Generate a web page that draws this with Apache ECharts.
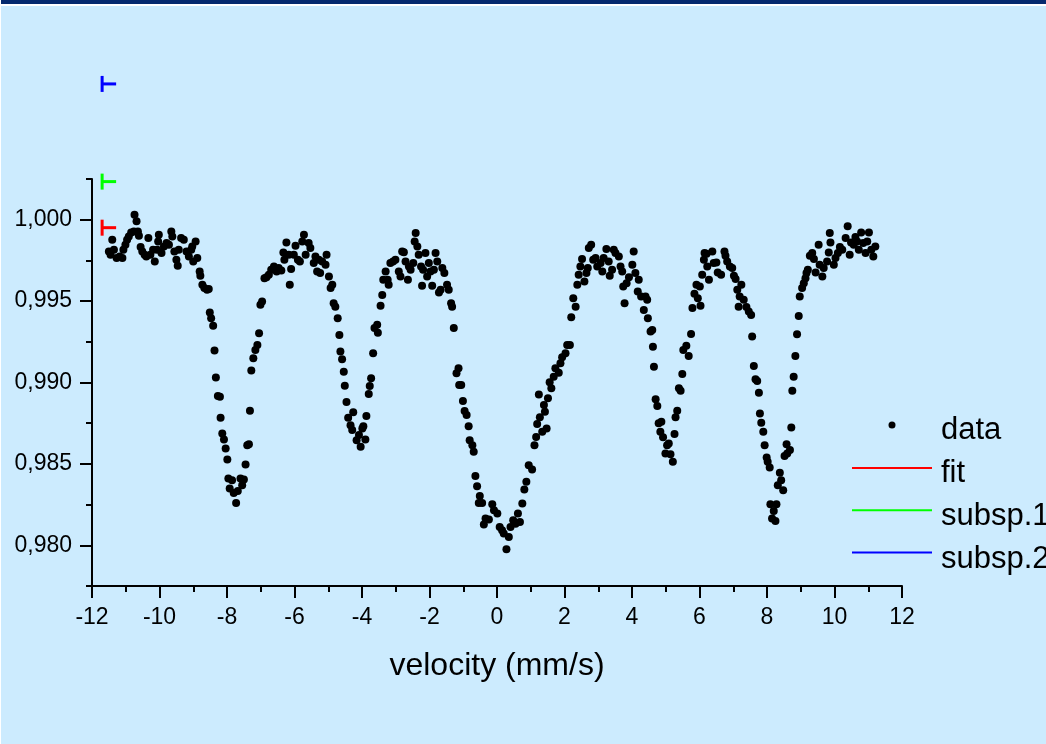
<!DOCTYPE html>
<html><head><meta charset="utf-8">
<script src="https://cdn.jsdelivr.net/npm/echarts@6/dist/echarts.min.js"></script>
<style>html,body{margin:0;padding:0;background:#CCEBFE;} #chart{width:1046px;height:744px;}</style>
</head><body><div id="chart"></div>
<script>
// Mössbauer spectrum: [velocity (mm/s), relative transmission]
const spectrum = [
[-11.50,0.99805],[-11.45,0.99785],[-11.40,0.99877],[-11.35,0.99815],[-11.27,0.99764],[-11.18,0.99774],[-11.10,0.99764],[-11.07,0.99815],[-11.01,0.99846],[-10.96,0.99877],[-10.91,0.99897],[-10.84,0.99922],[-10.76,0.99928],[-10.74,1.00031],[-10.68,0.99990],[-10.64,0.99928],[-10.61,0.99902],[-10.56,0.99832],[-10.51,0.99805],[-10.44,0.99785],[-10.39,0.99774],[-10.33,0.99887],[-10.27,0.99785],[-10.19,0.99815],[-10.14,0.99743],[-10.07,0.99815],[-10.04,0.99866],[-10.02,0.99908],[-9.94,0.99795],[-9.87,0.99836],[-9.79,0.99857],[-9.72,0.99846],[-9.65,0.99928],[-9.62,0.99897],[-9.56,0.99805],[-9.50,0.99754],[-9.46,0.99717],[-9.43,0.99815],[-9.36,0.99887],[-9.28,0.99877],[-9.20,0.99805],[-9.13,0.99774],[-9.06,0.99815],[-9.03,0.99836],[-9.00,0.99743],[-8.93,0.99866],[-8.88,0.99764],[-8.81,0.99682],[-8.79,0.99655],[-8.73,0.99600],[-8.67,0.99580],[-8.59,0.99569],[-8.54,0.99574],[-8.51,0.99430],[-8.47,0.99395],[-8.41,0.99348],[-8.37,0.99196],[-8.33,0.99031],[-8.27,0.98917],[-8.21,0.98913],[-8.19,0.98783],[-8.14,0.98687],[-8.09,0.98650],[-8.04,0.98595],[-7.99,0.98527],[-7.96,0.98410],[-7.92,0.98349],[-7.85,0.98400],[-7.80,0.98322],[-7.73,0.98260],[-7.68,0.98334],[-7.60,0.98410],[-7.55,0.98369],[-7.50,0.98404],[-7.45,0.98497],[-7.40,0.98615],[-7.35,0.98621],[-7.32,0.98826],[-7.28,0.99074],[-7.22,0.99149],[-7.16,0.99200],[-7.10,0.99231],[-7.05,0.99303],[-7.01,0.99477],[-6.96,0.99497],[-6.89,0.99641],[-6.83,0.99647],[-6.76,0.99662],[-6.69,0.99692],[-6.61,0.99713],[-6.53,0.99682],[-6.47,0.99703],[-6.39,0.99688],[-6.33,0.99799],[-6.30,0.99754],[-6.24,0.99860],[-6.17,0.99785],[-6.14,0.99600],[-6.10,0.99697],[-6.02,0.99785],[-5.97,0.99840],[-5.90,0.99754],[-5.84,0.99743],[-5.77,0.99866],[-5.72,0.99908],[-5.67,0.99785],[-5.58,0.99857],[-5.53,0.99826],[-5.43,0.99734],[-5.38,0.99774],[-5.33,0.99682],[-5.28,0.99754],[-5.24,0.99672],[-5.18,0.99743],[-5.08,0.99723],[-5.05,0.99785],[-4.98,0.99651],[-4.93,0.99580],[-4.88,0.99600],[-4.84,0.99487],[-4.79,0.99466],[-4.72,0.99395],[-4.67,0.99292],[-4.64,0.99190],[-4.59,0.99143],[-4.54,0.99066],[-4.51,0.98980],[-4.46,0.98880],[-4.41,0.98783],[-4.34,0.98738],[-4.29,0.98708],[-4.26,0.98817],[-4.16,0.98646],[-4.09,0.98677],[-4.04,0.98605],[-3.99,0.98718],[-3.96,0.98732],[-3.90,0.98650],[-3.87,0.98794],[-3.80,0.98929],[-3.77,0.98978],[-3.73,0.99026],[-3.67,0.99180],[-3.63,0.99334],[-3.55,0.99354],[-3.53,0.99306],[-3.45,0.99471],[-3.40,0.99538],[-3.37,0.99631],[-3.30,0.99682],[-3.24,0.99631],[-3.21,0.99600],[-3.16,0.99734],[-3.08,0.99743],[-3.01,0.99754],[-2.91,0.99682],[-2.86,0.99651],[-2.81,0.99805],[-2.76,0.99800],[-2.71,0.99743],[-2.64,0.99631],[-2.61,0.99713],[-2.56,0.99692],[-2.48,0.99734],[-2.44,0.99866],[-2.41,0.99918],[-2.36,0.99836],[-2.32,0.99785],[-2.25,0.99713],[-2.22,0.99594],[-2.19,0.99692],[-2.12,0.99795],[-2.07,0.99651],[-2.02,0.99734],[-1.97,0.99682],[-1.92,0.99594],[-1.87,0.99692],[-1.82,0.99795],[-1.77,0.99743],[-1.72,0.99553],[-1.67,0.99569],[-1.62,0.99703],[-1.56,0.99672],[-1.48,0.99600],[-1.43,0.99569],[-1.36,0.99487],[-1.33,0.99466],[-1.28,0.99335],[-1.20,0.99057],[-1.14,0.99087],[-1.12,0.98985],[-1.06,0.98985],[-1.01,0.98886],[-0.96,0.98825],[-0.90,0.98800],[-0.84,0.98732],[-0.81,0.98646],[-0.73,0.98615],[-0.69,0.98574],[-0.64,0.98426],[-0.59,0.98363],[-0.54,0.98260],[-0.51,0.98303],[-0.44,0.98260],[-0.39,0.98127],[-0.34,0.98164],[-0.24,0.98158],[-0.14,0.98252],[-0.09,0.98215],[0.01,0.98195],[0.08,0.98113],[0.15,0.98092],[0.20,0.98072],[0.28,0.97975],[0.35,0.98051],[0.40,0.98113],[0.48,0.98154],[0.55,0.98133],[0.62,0.98195],[0.68,0.98143],[0.75,0.98257],[0.81,0.98343],[0.87,0.98390],[0.94,0.98492],[1.04,0.98466],[1.11,0.98615],[1.16,0.98666],[1.19,0.98745],[1.24,0.98927],[1.27,0.98786],[1.34,0.98697],[1.39,0.98862],[1.42,0.98820],[1.47,0.98718],[1.51,0.98903],[1.56,0.99001],[1.61,0.98964],[1.68,0.99036],[1.73,0.99087],[1.83,0.99060],[1.88,0.99118],[1.93,0.99155],[2.03,0.99180],[2.08,0.99231],[2.16,0.99231],[2.20,0.99401],[2.26,0.99518],[2.33,0.99466],[2.38,0.99600],[2.42,0.99662],[2.47,0.99713],[2.52,0.99758],[2.59,0.99620],[2.65,0.99672],[2.69,0.99703],[2.72,0.99826],[2.79,0.99846],[2.85,0.99754],[2.92,0.99764],[2.97,0.99713],[3.07,0.99734],[3.12,0.99682],[3.16,0.99764],[3.24,0.99820],[3.31,0.99743],[3.34,0.99655],[3.41,0.99692],[3.46,0.99815],[3.51,0.99795],[3.61,0.99774],[3.66,0.99713],[3.71,0.99682],[3.74,0.99590],[3.78,0.99487],[3.84,0.99610],[3.91,0.99647],[4.01,0.99723],[4.05,0.99805],[4.10,0.99672],[4.17,0.99559],[4.20,0.99631],[4.27,0.99528],[4.35,0.99446],[4.40,0.99528],[4.45,0.99508],[4.47,0.99395],[4.55,0.99313],[4.60,0.99323],[4.62,0.99220],[4.65,0.99097],[4.70,0.98897],[4.75,0.98855],[4.79,0.98749],[4.84,0.98697],[4.87,0.98759],[4.92,0.98663],[4.99,0.98564],[5.04,0.98615],[5.09,0.98626],[5.14,0.98560],[5.21,0.98513],[5.26,0.98683],[5.29,0.98786],[5.34,0.98826],[5.39,0.98964],[5.44,0.98950],[5.49,0.99052],[5.52,0.99200],[5.61,0.99225],[5.68,0.99163],[5.75,0.99298],[5.79,0.99457],[5.85,0.99545],[5.91,0.99600],[5.95,0.99518],[6.01,0.99590],[6.03,0.99471],[6.08,0.99662],[6.13,0.99754],[6.15,0.99795],[6.21,0.99791],[6.23,0.99713],[6.28,0.99631],[6.38,0.99805],[6.42,0.99734],[6.50,0.99737],[6.54,0.99676],[6.64,0.99662],[6.74,0.99805],[6.77,0.99778],[6.82,0.99743],[6.90,0.99713],[6.97,0.99703],[7.02,0.99655],[7.07,0.99635],[7.12,0.99569],[7.16,0.99466],[7.19,0.99528],[7.24,0.99600],[7.31,0.99508],[7.39,0.99463],[7.46,0.99436],[7.53,0.99415],[7.56,0.99282],[7.61,0.99102],[7.66,0.99020],[7.71,0.99009],[7.76,0.98937],[7.79,0.98810],[7.83,0.98753],[7.89,0.98697],[7.93,0.98615],[7.99,0.98540],[8.02,0.98513],[8.08,0.98478],[8.10,0.98252],[8.15,0.98164],[8.20,0.98211],[8.25,0.98150],[8.28,0.98252],[8.32,0.98369],[8.38,0.98445],[8.42,0.98400],[8.48,0.98338],[8.52,0.98548],[8.58,0.98621],[8.60,0.98564],[8.68,0.98585],[8.72,0.98724],[8.75,0.98950],[8.79,0.99036],[8.84,0.99163],[8.89,0.99297],[8.94,0.99409],[8.97,0.99528],[9.04,0.99580],[9.09,0.99610],[9.14,0.99641],[9.17,0.99672],[9.21,0.99692],[9.27,0.99778],[9.34,0.99795],[9.39,0.99758],[9.44,0.99676],[9.53,0.99846],[9.56,0.99723],[9.64,0.99651],[9.68,0.99703],[9.78,0.99743],[9.83,0.99799],[9.86,0.99918],[9.88,0.99860],[9.98,0.99723],[10.03,0.99764],[10.10,0.99795],[10.16,0.99832],[10.23,0.99815],[10.33,0.99887],[10.39,0.99959],[10.45,0.99785],[10.49,0.99860],[10.57,0.99846],[10.62,0.99894],[10.67,0.99866],[10.72,0.99815],[10.79,0.99922],[10.85,0.99857],[10.92,0.99795],[10.97,0.99866],[11.02,0.99922],[11.09,0.99815],[11.15,0.99774],[11.21,0.99836]
];
const seriesNames = ['data', 'fit', 'subsp.1', 'subsp.2'];
const seriesColors = ['#000000', '#FF0000', '#00FF00', '#0000FF'];
// baseline markers for fit, subsp.1, subsp.2
const markerVelocity = -11.70;
const markerLevels = [0.99951, 1.00234, 1.00834];
const xRange = [-12, 12];
const xStep = 2;
const yRange = [0.9775, 1.0025];
const yMinorStep = 0.0025;
const yMajorTicks = [0.980, 0.985, 0.990, 0.995, 1.000];
const xTitle = 'velocity (mm/s)';

const FONT = '"Liberation Sans", Arial, sans-serif';
const chart = echarts.init(document.getElementById('chart'), null, {renderer: 'canvas'});
const tickStyle = {color: '#000', width: 2};

const option = {
  animation: false,
  backgroundColor: '#CCEBFE',
  graphic: [
    {type: 'rect', left: 0, top: 0, shape: {width: 1046, height: 4}, style: {fill: '#05296E'}, z: 100},
    {type: 'rect', left: 0, top: 4, shape: {width: 1046, height: 2}, style: {fill: '#FFFFFF'}, z: 100},
    {type: 'rect', left: 0, top: 0, shape: {width: 1, height: 744}, style: {fill: '#FFFFFF'}, z: 100}
  ],
  grid: {left: 92, top: 179, width: 810, height: 407, containLabel: false},
  xAxis: {
    type: 'value', min: xRange[0], max: xRange[1], interval: xStep, position: 'bottom',
    axisLine: {show: true, onZero: false, lineStyle: tickStyle},
    axisTick: {show: true, length: 12, lineStyle: tickStyle},
    minorTick: {show: true, splitNumber: 2, length: 6, lineStyle: tickStyle},
    axisLabel: {margin: 20, color: '#000', fontSize: 23, fontFamily: FONT},
    splitLine: {show: false}, minorSplitLine: {show: false},
    name: xTitle, nameLocation: 'middle', nameGap: 64,
    nameTextStyle: {fontSize: 32, color: '#000', fontFamily: FONT}
  },
  yAxis: [
    {
      type: 'value', min: yRange[0], max: yRange[1], interval: yMinorStep, position: 'left',
      axisLine: {show: true, onZero: false, lineStyle: tickStyle},
      axisTick: {show: true, length: 6, lineStyle: tickStyle},
      axisLabel: {show: false}, splitLine: {show: false}
    },
    {
      type: 'value', min: yRange[0], max: yRange[1], position: 'left', offset: 0,
      axisLine: {show: false, onZero: false},
      axisTick: {show: true, length: 12, customValues: yMajorTicks, lineStyle: tickStyle},
      axisLabel: {show: true, customValues: yMajorTicks, margin: 20, color: '#000', fontSize: 23, fontFamily: FONT,
        formatter: v => v.toFixed(3).replace('.', ',')},
      splitLine: {show: false}
    }
  ],
  legend: [
    { // icons
      data: seriesNames, orient: 'vertical', left: 851, top: 421.5, padding: 0,
      itemWidth: 80, itemHeight: 7, itemGap: 36, selectedMode: false,
      formatter: () => '', textStyle: {fontSize: 1}
    },
    { // labels
      data: seriesNames, orient: 'vertical', left: 851, top: 414.5, padding: 0,
      itemWidth: 80, itemHeight: 7, itemGap: 12, selectedMode: false,
      itemStyle: {opacity: 0}, lineStyle: {opacity: 0},
      textStyle: {fontSize: 31, color: '#000', fontFamily: FONT, padding: [0, 0, 0, 4]}
    }
  ],
  series: [
    {name: seriesNames[0], type: 'scatter', data: spectrum, symbol: 'circle', symbolSize: 8,
      itemStyle: {color: seriesColors[0], opacity: 1}, yAxisIndex: 0, z: 3},
    ...[1, 2, 3].map(i => ({
      name: seriesNames[i], type: 'line', data: [], symbol: 'none', showSymbol: false,
      lineStyle: {color: seriesColors[i], width: 2.5}, itemStyle: {color: 'rgba(0,0,0,0)'}
    })),
    {
      type: 'custom', clip: false, silent: true, yAxisIndex: 0,
      data: markerLevels.map((v, i) => [markerVelocity, v, i + 1]),
      renderItem: (params, api) => {
        const p = api.coord([api.value(0), api.value(1)]);
        const color = seriesColors[api.value(2)];
        return {type: 'group', children: [
          {type: 'line', shape: {x1: p[0], y1: p[1] - 8, x2: p[0], y2: p[1] + 8}, style: {stroke: color, lineWidth: 3}},
          {type: 'line', shape: {x1: p[0], y1: p[1], x2: p[0] + 14, y2: p[1]}, style: {stroke: color, lineWidth: 3}}
        ]};
      }
    }
  ]
};
chart.setOption(option);
</script>
</body></html>
